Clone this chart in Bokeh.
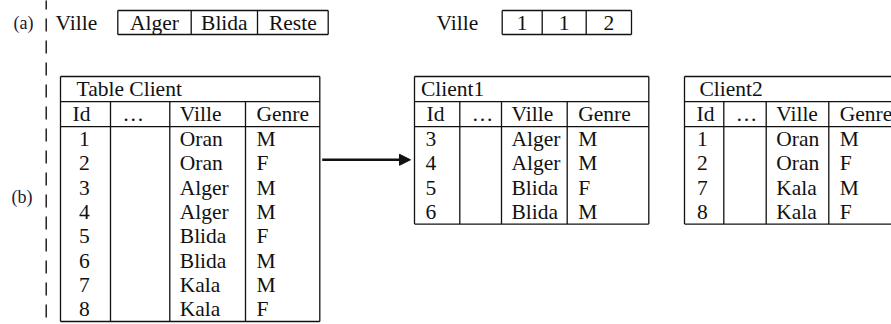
from bokeh.plotting import figure
from bokeh.models import Range1d, Arrow, NormalHead
from bokeh.core.properties import value
from bokeh.embed import file_html
from bokeh.resources import INLINE

# ---------------- data ----------------
part_labels = ["(a)", "(b)"]
attr_label = "Ville"
predicate_values = ["Alger", "Blida", "Reste"]
fragment_codes = ["1", "1", "2"]
columns = ["Id", "\u2026", "Ville", "Genre"]
client_ids = ["1", "2", "3", "4", "5", "6", "7", "8"]
client_villes = ["Oran", "Oran", "Alger", "Alger", "Blida", "Blida", "Kala", "Kala"]
client_genres = ["M", "F", "M", "M", "F", "M", "M", "F"]
table_titles = ["Table Client", "Client1", "Client2"]


def fragment_of(ville):
    if ville in predicate_values[:-1]:
        return fragment_codes[predicate_values.index(ville)]
    return fragment_codes[-1]


all_rows = list(zip(client_ids, client_villes, client_genres))
frag1 = [r for r in all_rows if fragment_of(r[1]) == "1"]
frag2 = [r for r in all_rows if fragment_of(r[1]) == "2"]

# ---------------- layout ----------------
FONT = value("Liberation Serif")
FS = "21.5px"
INK = "#111111"
TITLE_H = 25.2
HEAD_H = 25.0
ROW_H = 24.35
TOP = 76.0
HEAD_PADS = [12, 12, 10, 11]
DATA_PADS = [None, 0, 10, 11]

p = figure(width=891, height=324, x_range=Range1d(0, 891), y_range=Range1d(324, 0),
           output_backend="svg", toolbar_location=None, x_axis_type=None,
           y_axis_type=None, min_border=0, outline_line_color=None,
           background_fill_color="white", border_fill_color="white")

sx0, sy0, sx1, sy1 = [], [], [], []
tx, ty, tt = [], [], []          # left aligned texts
cx, cy, ct = [], [], []          # centered texts


def seg(x0, y0, x1, y1):
    sx0.append(x0); sy0.append(y0); sx1.append(x1); sy1.append(y1)


def draw_table(left, widths, title, title_pad, id_pad, rows):
    edges = [left]
    for w in widths:
        edges.append(edges[-1] + w)
    right = edges[-1]
    y_title = TOP + TITLE_H
    y_head = y_title + HEAD_H
    bottom = y_head + ROW_H * len(rows)
    seg(left, TOP, right, TOP)
    seg(left, bottom, right, bottom)
    seg(left, TOP, left, bottom)
    seg(right, TOP, right, bottom)
    seg(left, y_title, right, y_title)
    seg(left, y_head, right, y_head)
    for e in edges[1:-1]:
        seg(e, y_title, e, bottom)
    tx.append(left + title_pad); ty.append(TOP + TITLE_H / 2); tt.append(title)
    for i, c in enumerate(columns):
        tx.append(edges[i] + HEAD_PADS[i]); ty.append(y_title + HEAD_H / 2); tt.append(c)
    pads = [id_pad] + DATA_PADS[1:]
    for k, (rid, ville, genre) in enumerate(rows):
        yc = y_head + ROW_H * (k + 0.5)
        for i, val in ((0, rid), (2, ville), (3, genre)):
            tx.append(edges[i] + pads[i]); ty.append(yc); tt.append(val)


def draw_box(label_x, edges, labels):
    y0, y1 = 10.0, 34.0
    tx.append(label_x); ty.append(22.0); tt.append(attr_label)
    seg(edges[0], y0, edges[-1], y0)
    seg(edges[0], y1, edges[-1], y1)
    for e in edges:
        seg(e, y0, e, y1)
    for i, lab in enumerate(labels):
        cx.append((edges[i] + edges[i + 1]) / 2); cy.append(22.0); ct.append(lab)


draw_box(55, [117.3, 190.7, 257.0, 327.7], predicate_values)
draw_box(436, [501.7, 541.7, 585.7, 631.0], fragment_codes)

draw_table(60.0, [50.0, 59.3, 75.7, 74.3], table_titles[0], 16, 18.5, all_rows)
draw_table(414.0, [45.3, 41.7, 65.7, 81.6], table_titles[1], 6.5, 11, frag1)
draw_table(684.0, [39.3, 42.4, 62.6, 82.0], table_titles[2], 15, 12.5, frag2)

# dashed separator
p.line(x=[45.7, 45.7], y=[-4, 330], line_color=INK, line_width=1.4, line_dash="13 9")

p.segment(x0=sx0, y0=sy0, x1=sx1, y1=sy1, line_color=INK, line_width=1.3)

p.text(x=tx, y=ty, text=tt, text_font=FONT, text_font_size=FS, text_color=INK,
       text_align="left", text_baseline="middle")
p.text(x=cx, y=cy, text=ct, text_font=FONT, text_font_size=FS, text_color=INK,
       text_align="center", text_baseline="middle")

# part labels
p.text(x=[13, 11], y=[22, 196], text=part_labels, text_font=FONT, text_font_size="18px",
       text_color="#1a1a33", text_align="left", text_baseline="middle")

# arrow from table to fragment
p.add_layout(Arrow(end=NormalHead(size=11, fill_color=INK, line_color=INK),
                   x_start=321.7, y_start=159.3, x_end=410.0, y_end=159.3,
                   line_color=INK, line_width=2.5))

open("out.html", "w").write(file_html(p, INLINE))
